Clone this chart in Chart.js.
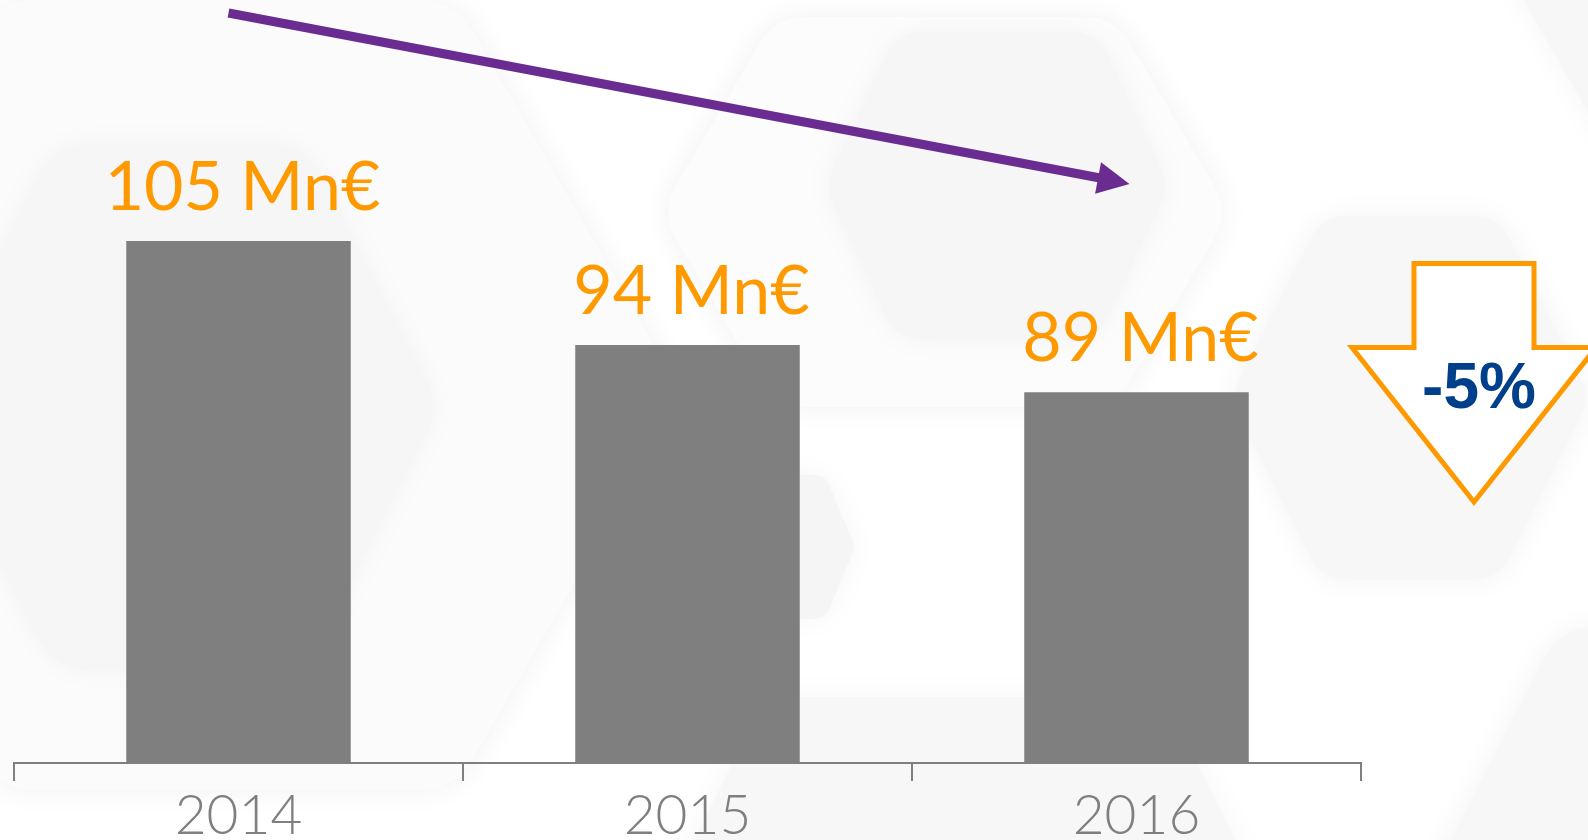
<!DOCTYPE html>
<html>
<head>
<meta charset="utf-8">
<script src="https://cdn.jsdelivr.net/npm/chart.js@4/dist/chart.umd.min.js"></script>
<style>
  html, body { margin: 0; padding: 0; background: #fdfdfd; }
  #wrap { width: 1588px; height: 840px; }
</style>
</head>
<body>
<div id="wrap"><canvas id="myChart" width="1588" height="840"></canvas></div>
<script>
// Данные графика
const years = ['2014', '2015', '2016'];
const revenue = [105, 94, 89];
const unit = 'Mn€';

// Цвета
const barColor = '#7f7f7f';
const labelColor = '#ff9900';
const axisColor = '#808080';
const trendColor = '#6a2c91';
const badgeColor = '#003f8a';

// Шестиугольник с закруглёнными углами (острые углы слева и справа)
function hexPath(ctx, cx, cy, hw, hh, k, r) {
  const pts = [
    [cx - hw, cy], [cx - hw + k, cy - hh], [cx + hw - k, cy - hh],
    [cx + hw, cy], [cx + hw - k, cy + hh], [cx - hw + k, cy + hh]
  ];
  ctx.beginPath();
  const mid = (a, b) => [(a[0] + b[0]) / 2, (a[1] + b[1]) / 2];
  const start = mid(pts[5], pts[0]);
  ctx.moveTo(start[0], start[1]);
  for (let i = 0; i < 6; i++) {
    const p = pts[i], n = pts[(i + 1) % 6];
    ctx.arcTo(p[0], p[1], n[0], n[1], r);
  }
  ctx.closePath();
}

// Фон из светлых шестиугольников
const hexBackground = {
  id: 'hexBackground',
  beforeDraw(chart) {
    const ctx = chart.ctx;
    const shapes = [
      // cx, cy, hw, hh, k, r, fill, shadow
      [227, 395, 456, 395, 228, 60, '#fbfbfb', 0.06],
      [180, 407, 260, 263, 135, 55, '#f6f6f6', 0.035],
      [945, 212, 285, 195, 115, 50, '#fcfcfc', 0.06],
      [997, 186, 172, 154, 72, 40, '#f6f6f6', 0.04],
      [1410, 398, 180, 182, 92, 40, '#f7f7f7', 0.05],
      [1760, 900, 340, 272, 140, 50, '#f7f7f7', 0.05],
      [760, 547, 95, 72, 30, 15, '#f5f5f5', 0.04],
      [965, 900, 300, 203, 100, 40, '#f7f7f7', 0.04],
      [1800, -40, 300, 190, 110, 40, '#f7f7f7', 0.04]
    ];
    ctx.save();
    ctx.fillStyle = '#ffffff';
    ctx.fillRect(0, 0, chart.width, chart.height);
    shapes.forEach(s => {
      hexPath(ctx, s[0], s[1], s[2], s[3], s[4], s[5]);
      ctx.shadowColor = 'rgba(0,0,0,' + s[7] + ')';
      ctx.shadowBlur = 30;
      ctx.fillStyle = s[6];
      ctx.fill();
    });
    ctx.restore();
  }
};

// Подписи значений над столбцами
const valueLabels = {
  id: 'valueLabels',
  afterDatasetsDraw(chart) {
    const ctx = chart.ctx;
    const meta = chart.getDatasetMeta(0);
    ctx.save();
    ctx.font = '400 68px Lato, "Open Sans", sans-serif';
    ctx.fillStyle = labelColor;
    ctx.textAlign = 'center';
    ctx.textBaseline = 'alphabetic';
    meta.data.forEach((bar, i) => {
      ctx.fillText(revenue[i] + ' ' + unit, bar.x + 4, bar.y - 31);
    });
    ctx.restore();
  }
};

// Стрелка тренда и значок изменения
const trendArrows = {
  id: 'trendArrows',
  afterDraw(chart) {
    const ctx = chart.ctx;
    const meta = chart.getDatasetMeta(0);
    const first = meta.data[0];
    const last = meta.data[meta.data.length - 1];

    // фиолетовая стрелка
    const x0 = first.x - 10, y0 = 13;
    const x1 = last.x - 7, y1 = 184;
    const ang = Math.atan2(y1 - y0, x1 - x0);
    const headLen = 32, headW = 16;
    const bx = x1 - headLen * Math.cos(ang), by = y1 - headLen * Math.sin(ang);
    ctx.save();
    ctx.strokeStyle = trendColor;
    ctx.lineWidth = 9;
    ctx.beginPath();
    ctx.moveTo(x0, y0);
    ctx.lineTo(bx + 2, by);
    ctx.stroke();
    ctx.fillStyle = trendColor;
    ctx.beginPath();
    ctx.moveTo(x1, y1);
    ctx.lineTo(bx + headW * Math.sin(ang), by - headW * Math.cos(ang));
    ctx.lineTo(bx - headW * Math.sin(ang), by + headW * Math.cos(ang));
    ctx.closePath();
    ctx.fill();

    // оранжевая стрелка вниз
    const cx = 1474;
    ctx.beginPath();
    ctx.moveTo(cx - 60, 263.5);
    ctx.lineTo(cx + 60, 263.5);
    ctx.lineTo(cx + 60, 347.5);
    ctx.lineTo(cx + 122, 347.5);
    ctx.lineTo(cx, 502);
    ctx.lineTo(cx - 122, 347.5);
    ctx.lineTo(cx - 60, 347.5);
    ctx.closePath();
    ctx.fillStyle = '#ffffff';
    ctx.fill();
    ctx.strokeStyle = labelColor;
    ctx.lineWidth = 5;
    ctx.lineJoin = 'miter';
    ctx.stroke();

    // изменение за последний год
    const prev = revenue[revenue.length - 2];
    const cur = revenue[revenue.length - 1];
    const pct = Math.round((cur - prev) / prev * 100);
    ctx.font = 'bold 64px "Liberation Sans", Arial, sans-serif';
    ctx.fillStyle = badgeColor;
    ctx.textAlign = 'center';
    ctx.textBaseline = 'alphabetic';
    ctx.fillText((pct < 0 ? '-' : '+') + Math.abs(pct) + '%', cx + 5, 408);
    ctx.restore();
  }
};

const ctx = document.getElementById('myChart').getContext('2d');

new Chart(ctx, {
  type: 'bar',
  data: {
    labels: years,
    datasets: [{
      data: revenue,
      backgroundColor: barColor,
      borderWidth: 0,
      barPercentage: 0.5,
      categoryPercentage: 1.0
    }]
  },
  options: {
    responsive: false,
    animation: false,
    layout: {
      padding: { left: 14, right: 227, top: 0, bottom: 0 }
    },
    plugins: {
      legend: { display: false },
      tooltip: { enabled: false }
    },
    scales: {
      x: {
        offset: true,
        // фиксированная высота оси, чтобы линия оси была на 763px
        afterFit: (scale) => { scale.height = 77; },
        border: { display: true, color: axisColor, width: 2 },
        grid: {
          offset: true,
          drawOnChartArea: false,
          drawTicks: true,
          tickLength: 18,
          lineWidth: 2,
          color: axisColor
        },
        ticks: {
          color: '#7f7f7f',
          padding: 13,
          font: { family: 'Lato, "Open Sans", sans-serif', size: 55, weight: '300', lineHeight: 0.82 }
        }
      },
      y: {
        display: false,
        min: 49.8,
        max: 130.5
      }
    }
  },
  plugins: [hexBackground, valueLabels, trendArrows]
});
</script>
</body>
</html>
